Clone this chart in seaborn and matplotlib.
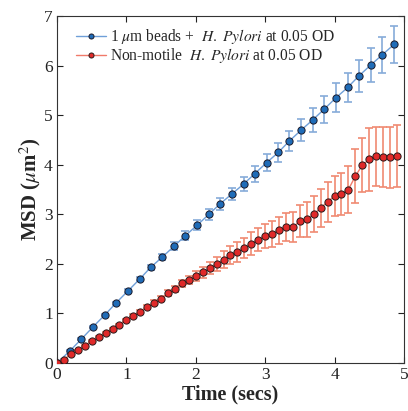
import numpy as np
import pandas as pd
import matplotlib
matplotlib.use("Agg")
import matplotlib.pyplot as plt
import seaborn as sns

# ---- data ----
blue_t = [0.0, 0.19, 0.35, 0.52, 0.69, 0.85, 1.02, 1.19, 1.35, 1.52, 1.69, 1.85, 2.02, 2.19, 2.35,
          2.52, 2.69, 2.85, 3.02, 3.19, 3.35, 3.52, 3.69, 3.85, 4.02, 4.19, 4.35, 4.52, 4.69, 4.86]
blue_msd = [0.0, 0.25, 0.48, 0.73, 0.97, 1.21, 1.45, 1.69, 1.93, 2.14, 2.36, 2.57, 2.78, 3.00, 3.21,
            3.41, 3.61, 3.82, 4.04, 4.25, 4.48, 4.70, 4.91, 5.12, 5.35, 5.56, 5.79, 6.01, 6.22, 6.43]
blue_err = [0.0, 0.01, 0.015, 0.02, 0.025, 0.03, 0.035, 0.045, 0.05, 0.06, 0.075, 0.085, 0.10, 0.11, 0.12,
            0.13, 0.15, 0.16, 0.17, 0.19, 0.21, 0.23, 0.24, 0.27, 0.29, 0.30, 0.32, 0.34, 0.36, 0.37]

red_t = [round(0.1 * i, 1) for i in range(50)]
red_msd = [0.0, 0.07, 0.18, 0.26, 0.35, 0.44, 0.52, 0.60, 0.69, 0.77,
           0.86, 0.95, 1.03, 1.12, 1.22, 1.30, 1.41, 1.50, 1.61, 1.67,
           1.76, 1.83, 1.91, 2.00, 2.08, 2.18, 2.24, 2.32, 2.41, 2.49,
           2.56, 2.61, 2.68, 2.74, 2.74, 2.86, 2.90, 3.00, 3.13, 3.25,
           3.37, 3.41, 3.50, 3.77, 3.99, 4.11, 4.17, 4.16, 4.15, 4.18]
red_err = [0.0, 0.005, 0.01, 0.01, 0.015, 0.015, 0.02, 0.02, 0.025, 0.025,
           0.03, 0.03, 0.035, 0.04, 0.045, 0.05, 0.055, 0.06, 0.07, 0.08,
           0.10, 0.11, 0.12, 0.14, 0.17, 0.18, 0.20, 0.21, 0.23, 0.24,
           0.25, 0.26, 0.27, 0.28, 0.30, 0.32, 0.35, 0.36, 0.39, 0.41,
           0.40, 0.43, 0.47, 0.55, 0.55, 0.63, 0.60, 0.61, 0.62, 0.63]

blue_label = r"1 $\mu$m beads +  $\it{H.\ Pylori}$ at 0.05 OD"
red_label = r"Non-motile  $\it{H.\ Pylori}$ at 0.05 OD"
x_label = "Time (secs)"
y_label = r"MSD ($\mu$m$^2$)"
x_ticks = [0, 1, 2, 3, 4, 5]
y_ticks = [0, 1, 2, 3, 4, 5, 6, 7]

# ---- style ----
sns.set_style("ticks")
plt.rcParams["font.family"] = ["Liberation Serif", "DejaVu Serif"]
plt.rcParams["mathtext.fontset"] = "stix"

fig = plt.figure(figsize=(4.08, 4.11), dpi=100)
ax = fig.add_axes([0.1397, 0.1168, 0.8503, 0.8442])

blue_line = "#6f9fd8"
blue_fill = "#1f6cb8"
blue_ebar = "#86abd9"
red_line = "#f07a6a"
red_fill = "#e02a2a"
red_ebar = "#f08a72"

df_b = pd.DataFrame({"t": blue_t, "msd": blue_msd, "err": blue_err})
df_r = pd.DataFrame({"t": red_t, "msd": red_msd, "err": red_err})

ax.errorbar(df_b["t"], df_b["msd"], yerr=df_b["err"], fmt="none", ecolor=blue_ebar,
            elinewidth=1.2, capsize=3.2, capthick=1.2, zorder=2)
ax.errorbar(df_r["t"], df_r["msd"], yerr=df_r["err"], fmt="none", ecolor=red_ebar,
            elinewidth=1.2, capsize=3.2, capthick=1.2, zorder=2)

sns.lineplot(data=df_b, x="t", y="msd", ax=ax, color=blue_line, lw=1.0, marker="o",
             markersize=5.2, markerfacecolor=blue_fill, markeredgecolor="#1a1a2a",
             markeredgewidth=0.7, label=blue_label, zorder=3)
sns.lineplot(data=df_r, x="t", y="msd", ax=ax, color=red_line, lw=1.0, marker="o",
             markersize=5.2, markerfacecolor=red_fill, markeredgecolor="#2a1a1a",
             markeredgewidth=0.7, label=red_label, zorder=3)

ax.set_xlim(0, 5)
ax.set_ylim(0, 7)
ax.set_xticks(x_ticks)
ax.set_yticks(y_ticks)
ax.tick_params(direction="in", length=4, width=0.8, top=True, right=True,
               labelsize=12.5, colors="#222222", pad=3)
for s in ax.spines.values():
    s.set_visible(True)
    s.set_color("#333333")
    s.set_linewidth(0.8)

ax.set_xlabel(x_label, fontsize=14.5, fontweight="bold", labelpad=1)
ax.set_ylabel(y_label, fontsize=15, fontweight="bold", labelpad=1)

leg = ax.legend(loc="upper left", bbox_to_anchor=(0.055, 0.968), frameon=False, fontsize=11.2,
                handlelength=1.9, handletextpad=0.25, borderaxespad=0.0, labelspacing=0.0,
                markerscale=0.7, borderpad=0.0)

fig.savefig("out.png", dpi=100)
